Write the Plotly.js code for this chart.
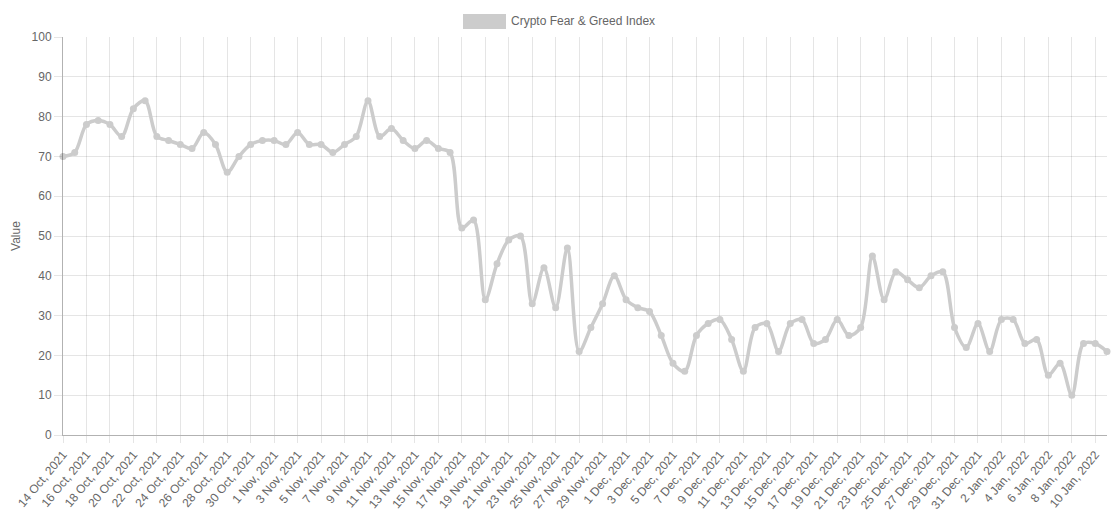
<!DOCTYPE html>
<html>
<head>
<meta charset="utf-8">
<script src="https://cdn.plot.ly/plotly-3.0.1.min.js"></script>
<style>html,body{margin:0;padding:0;background:#fff;}#chart{width:1119px;height:512px;}</style>
</head>
<body>
<div id="chart"></div>
<script>
var seriesName = "Crypto Fear & Greed Index";
var dates = [
"2021-10-14","2021-10-15","2021-10-16","2021-10-17","2021-10-18","2021-10-19","2021-10-20","2021-10-21","2021-10-22","2021-10-23","2021-10-24","2021-10-25","2021-10-26","2021-10-27","2021-10-28","2021-10-29","2021-10-30","2021-10-31",
"2021-11-01","2021-11-02","2021-11-03","2021-11-04","2021-11-05","2021-11-06","2021-11-07","2021-11-08","2021-11-09","2021-11-10","2021-11-11","2021-11-12","2021-11-13","2021-11-14","2021-11-15","2021-11-16","2021-11-17","2021-11-18","2021-11-19","2021-11-20","2021-11-21","2021-11-22","2021-11-23","2021-11-24","2021-11-25","2021-11-26","2021-11-27","2021-11-28","2021-11-29","2021-11-30",
"2021-12-01","2021-12-02","2021-12-03","2021-12-04","2021-12-05","2021-12-06","2021-12-07","2021-12-08","2021-12-09","2021-12-10","2021-12-11","2021-12-12","2021-12-13","2021-12-14","2021-12-15","2021-12-16","2021-12-17","2021-12-18","2021-12-19","2021-12-20","2021-12-21","2021-12-22","2021-12-23","2021-12-24","2021-12-25","2021-12-26","2021-12-27","2021-12-28","2021-12-29","2021-12-30","2021-12-31",
"2022-01-01","2022-01-02","2022-01-03","2022-01-04","2022-01-05","2022-01-06","2022-01-07","2022-01-08","2022-01-09","2022-01-10","2022-01-11"
];
var values = [
70,71,78,79,78,75,82,84,75,74,73,72,76,73,66,70,73,74,
74,73,76,73,73,71,73,75,84,75,77,74,72,74,72,71,52,54,34,43,49,50,33,42,32,47,21,27,33,40,
34,32,31,25,18,16,25,28,29,24,16,27,28,21,28,29,23,24,29,25,27,45,34,41,39,37,40,41,27,22,28,
21,29,29,23,24,15,18,10,23,23,21
];
var yTickValues = [0,10,20,30,40,50,60,70,80,90,100];

var lineColor = "rgb(204,204,204)";
var fontFam = "Liberation Sans, Arial, Helvetica, sans-serif";
var gridColor = "rgba(0,0,0,0.1)";

var trace = {
  x: dates, y: values, type: "scatter", mode: "lines+markers",
  name: seriesName,
  line: {color: lineColor, width: 3.5, shape: "spline", smoothing: 0.9},
  marker: {color: lineColor, size: 7},
  cliponaxis: false,
  hoverinfo: "x+y"
};

var layout = {
  width: 1119, height: 512,
  margin: {l: 63, r: 12, t: 37, b: 77},
  paper_bgcolor: "#fff", plot_bgcolor: "#fff",
  showlegend: false,
  font: {family: fontFam, size: 12, color: "#666"},
  xaxis: {
    type: "date",
    range: [dates[0], dates[dates.length - 1]],
    tick0: dates[0], dtick: 2 * 86400000,
    tickformat: "%-d %b, %Y",
    tickangle: -50,
    showgrid: true, gridcolor: gridColor, gridwidth: 1,
    ticks: "outside", ticklen: 7, tickcolor: gridColor, tickwidth: 1,
    showline: true, linecolor: "rgba(0,0,0,0.3)", linewidth: 1,
    zeroline: false,
    tickfont: {family: fontFam, size: 12, color: "#666"},
    automargin: false
  },
  yaxis: {
    range: [0, 100],
    tickvals: yTickValues,
    showgrid: true, gridcolor: gridColor, gridwidth: 1,
    ticks: "outside", ticklen: 8, tickcolor: gridColor, tickwidth: 1,
    showline: true, linecolor: "rgba(0,0,0,0.3)", linewidth: 1,
    zeroline: false,
    tickfont: {family: fontFam, size: 12, color: "#666"},
    title: {text: "Value", font: {family: fontFam, size: 12, color: "#666"}, standoff: 8},
    automargin: false
  },
  shapes: [{
    type: "rect", xref: "paper", yref: "paper",
    x0: (463 - 63) / 1044, x1: (506 - 63) / 1044,
    y0: (435 - 29) / 398, y1: (435 - 14) / 398,
    fillcolor: lineColor, line: {width: 0}
  }],
  annotations: [{
    text: seriesName, xref: "paper", yref: "paper",
    x: (509 - 63) / 1044, y: (435 - 21) / 398,
    xanchor: "left", yanchor: "middle", showarrow: false,
    font: {family: fontFam, size: 12, color: "#666"}
  }]
};

Plotly.newPlot("chart", [trace], layout, {displayModeBar: false, staticPlot: true});
</script>
</body>
</html>
